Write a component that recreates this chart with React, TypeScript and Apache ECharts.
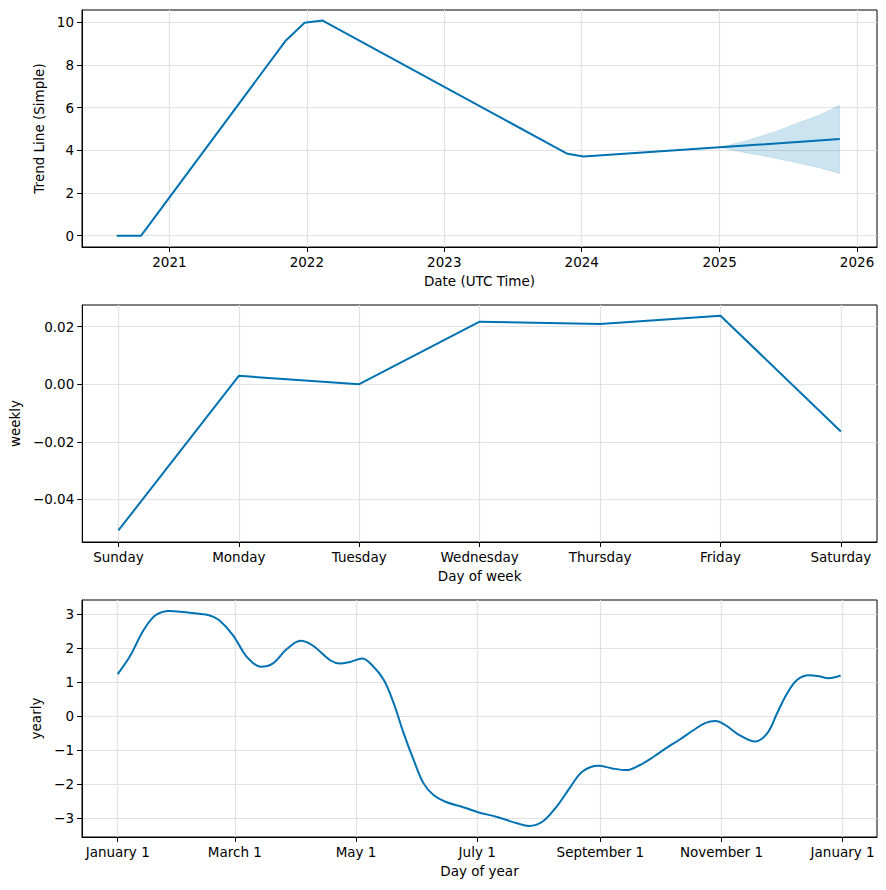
import React, { useEffect, useRef } from "react";
import * as echarts from "echarts";

// ---- Trend panel ----
const trendDates = ["2020-08-14", "2020-10-18", "2021-11-05", "2021-12-26", "2022-02-12", "2023-10-16", "2023-11-24", "2024-01-06", "2025-01-01", "2025-11-16"];
const trendValues = [0, 0, 9.12, 9.98, 10.08, 4.21, 3.84, 3.71, 4.14, 4.53];
const bandDates = ["2025-01-01", "2025-03-10", "2025-05-21", "2025-07-31", "2025-09-22", "2025-11-16"];
const bandLower = [4.14, 3.89, 3.66, 3.39, 3.19, 2.92];
const bandUpper = [4.14, 4.44, 4.83, 5.3, 5.64, 6.11];
const trendYearTicks = [2021, 2022, 2023, 2024, 2025, 2026];
const trendYTicks = [0, 2, 4, 6, 8, 10];

// ---- Weekly panel ----
const weekDays = ["Sunday", "Monday", "Tuesday", "Wednesday", "Thursday", "Friday", "Saturday"];
const weeklyValues = [-0.0508, 0.0029, 0.0, 0.0217, 0.0209, 0.0238, -0.0164];
const weeklyYTicks = [-0.04, -0.02, 0, 0.02];

// ---- Yearly panel ----
const yearlyDays = [0, 6, 13, 19, 26, 33, 40, 46, 51, 58, 65, 72, 78, 85, 92, 98, 107, 112, 117, 123, 128, 134, 139, 144, 149, 154, 159, 165, 174, 181, 191, 201, 207, 214, 221, 228, 234, 242, 249, 256, 263, 270, 276, 283, 290, 296, 301, 306, 313, 321, 327, 332, 337, 342, 348, 353, 358, 364];
const yearlyValues = [1.24, 1.75, 2.53, 2.97, 3.1, 3.07, 3.02, 2.97, 2.83, 2.39, 1.75, 1.46, 1.55, 1.97, 2.22, 2.09, 1.65, 1.55, 1.6, 1.7, 1.51, 1.07, 0.38, -0.5, -1.28, -1.97, -2.31, -2.51, -2.67, -2.81, -2.96, -3.14, -3.22, -3.09, -2.65, -2.07, -1.62, -1.45, -1.53, -1.58, -1.43, -1.18, -0.94, -0.68, -0.4, -0.19, -0.14, -0.26, -0.55, -0.74, -0.5, 0.09, 0.67, 1.07, 1.21, 1.18, 1.12, 1.2];
const yearlyTickDays = [0, 59, 120, 181, 243, 304, 365];
const yearlyTickLabels = ["January 1", "March 1", "May 1", "July 1", "September 1", "November 1", "January 1"];
const yearlyYTicks = [-3, -2, -1, 0, 1, 2, 3];

const LINE = "#0072B2";
const FONT = "DejaVu Sans";
const FS = 13.5;

const minus = (s: string) => s.replace("-", "\u2212");

function axisBase(ticks: number[], formatter: (v: number) => string, name: string, nameGap: number, rotate: boolean) {
  return {
    type: "value",
    name,
    nameLocation: "middle",
    nameGap,
    nameRotate: rotate ? 90 : 0,
    nameTextStyle: { color: "#000", fontSize: FS, fontFamily: FONT },
    axisLine: { show: true, onZero: false, lineStyle: { color: "#000", width: 1 } },
    axisTick: { show: true, length: 5, customValues: ticks, lineStyle: { color: "#000", width: 1 } },
    axisLabel: { show: true, customValues: ticks, formatter, color: "#000", fontSize: FS, fontFamily: FONT, margin: 8, showMinLabel: true, showMaxLabel: true, hideOverlap: false },
    splitLine: { show: true, lineStyle: { color: "#e2e2e2", width: 1.2 } },
  };
}

export default function App() {
  const ref = useRef<HTMLDivElement>(null);
  useEffect(() => {
    if (!ref.current) return;
    const chart = echarts.init(ref.current, undefined, { renderer: "svg" });
    const ts = (d: string) => Date.parse(d + "T00:00:00Z");
    const yearTickTs = trendYearTicks.map((y) => Date.UTC(y, 0, 1));

    const grids = [
      { left: 82, right: 9, top: 10, height: 237 },
      { left: 82, right: 9, top: 305, height: 237 },
      { left: 82, right: 9, top: 600, height: 237 },
    ].map((g) => ({ ...g, show: true, borderColor: "#000", borderWidth: 1, backgroundColor: "transparent" }));

    const xAxes = [
      {
        ...axisBase(yearTickTs, (v: number) => String(new Date(v).getUTCFullYear()), "Date (UTC Time)", 27, false),
        gridIndex: 0,
        min: Date.UTC(2020, 4, 14),
        max: Date.UTC(2026, 1, 23),
      },
      {
        ...axisBase([0, 1, 2, 3, 4, 5, 6], (v: number) => weekDays[Math.round(v)] ?? "", "Day of week", 27, false),
        gridIndex: 1,
        min: -0.3,
        max: 6.3,
      },
      {
        ...axisBase(yearlyTickDays, (v: number) => yearlyTickLabels[yearlyTickDays.indexOf(Math.round(v))] ?? "", "Day of year", 27, false),
        gridIndex: 2,
        min: -17.97,
        max: 382.3,
      },
    ];
    const yAxes = [
      {
        ...axisBase(trendYTicks, (v: number) => minus(String(Math.round(v))), "Trend Line (Simple)", 33, true),
        gridIndex: 0,
        min: -0.529,
        max: 10.576,
      },
      {
        ...axisBase(weeklyYTicks, (v: number) => minus(v.toFixed(2)), "weekly", 58, true),
        gridIndex: 1,
        min: -0.0548,
        max: 0.0275,
      },
      {
        ...axisBase(yearlyYTicks, (v: number) => minus(String(Math.round(v))), "yearly", 36, true),
        gridIndex: 2,
        min: -3.546,
        max: 3.42,
      },
    ];

    const bandData = bandDates.map((d, i) => [ts(d), bandLower[i], bandUpper[i]]);

    chart.setOption({
      animation: false,
      backgroundColor: "#fff",
      grid: grids,
      xAxis: xAxes,
      yAxis: yAxes,
      series: [
        {
          type: "custom",
          xAxisIndex: 0,
          yAxisIndex: 0,
          data: bandData,
          encode: { x: 0, y: [1, 2] },
          silent: true,
          z: 2,
          renderItem: (params: any, api: any) => {
            if (params.dataIndex !== 0) return null;
            const upper = bandData.map((p) => api.coord([p[0], p[2]]));
            const lower = bandData.map((p) => api.coord([p[0], p[1]])).reverse();
            return {
              type: "polygon",
              shape: { points: upper.concat(lower) },
              style: { fill: "rgba(0,114,178,0.2)", stroke: "rgba(0,114,178,0.12)", lineWidth: 1 },
            };
          },
        },
        {
          type: "line",
          xAxisIndex: 0,
          yAxisIndex: 0,
          data: trendDates.map((d, i) => [ts(d), trendValues[i]]),
          showSymbol: false,
          lineStyle: { color: LINE, width: 2 },
          z: 5,
        },
        {
          type: "line",
          xAxisIndex: 1,
          yAxisIndex: 1,
          data: weeklyValues.map((v, i) => [i, v]),
          showSymbol: false,
          lineStyle: { color: LINE, width: 2 },
        },
        {
          type: "line",
          xAxisIndex: 2,
          yAxisIndex: 2,
          data: yearlyDays.map((d, i) => [d, yearlyValues[i]]),
          showSymbol: false,
          smooth: 0.35,
          lineStyle: { color: LINE, width: 2 },
        },
      ],
    });
    return () => chart.dispose();
  }, []);
  return <div ref={ref} style={{ position: "absolute", left: 0, top: 0, width: 886, height: 890 }} />;
}
